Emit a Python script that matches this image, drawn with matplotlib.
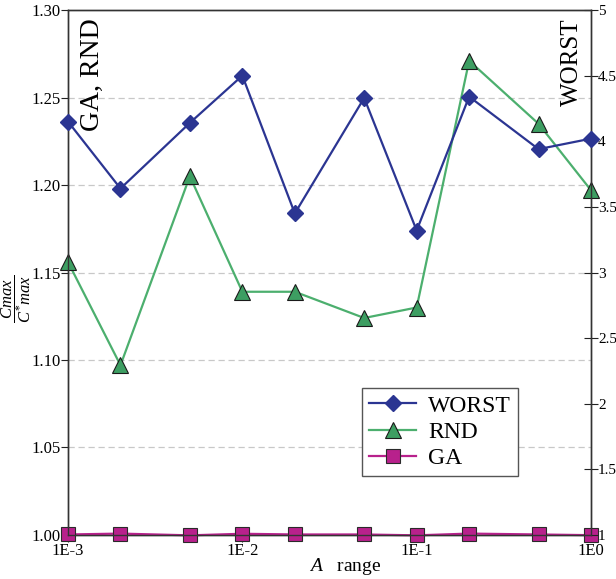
import numpy as np
import matplotlib.pyplot as plt

plt.rcParams['font.family'] = ['Liberation Serif', 'DejaVu Serif']
plt.rcParams['mathtext.fontset'] = 'custom'
plt.rcParams['mathtext.it'] = 'Liberation Serif:italic'
plt.rcParams['mathtext.rm'] = 'Liberation Serif'

# A range values
a_range = [1e-3, 2e-3, 5e-3, 1e-2, 2e-2, 5e-2, 1e-1, 2e-1, 5e-1, 1e0]
worst = [4.15, 3.64, 4.14, 4.50, 3.45, 4.33, 3.32, 4.34, 3.94, 4.02]
rnd = [1.156, 1.097, 1.205, 1.139, 1.139, 1.124, 1.130, 1.271, 1.235, 1.197]
ga = [1.0003, 1.0008, 0.9998, 1.0007, 1.0003, 1.0003, 0.9998, 1.0008, 1.0003, 0.9999]

x_ticks = [1e-3, 1e-2, 1e-1, 1e0]
x_ticklabels = ['1E-3', '1E-2', '1E-1', '1E0']
left_ticks = [1.00, 1.05, 1.10, 1.15, 1.20, 1.25, 1.30]
right_ticks = [1, 1.5, 2, 2.5, 3, 3.5, 4, 4.5, 5]

c_worst = '#2b3592'
c_rnd = '#4caf6e'
c_rnd_face = '#3d9e62'
c_ga = '#b8218c'

fig = plt.figure(figsize=(6.16, 5.79), dpi=100)
ax = fig.add_axes([0.1104, 0.076, 0.849, 0.9067])
ax2 = ax.twinx()

# grid from left axis
for t in left_ticks[1:-1]:
    ax.axhline(t, color='#c8c8c8', linestyle=(0, (5, 3)), linewidth=0.9, zorder=0)

l_rnd, = ax.plot(a_range, rnd, color=c_rnd, linewidth=1.6, marker='^', markersize=11,
                 markerfacecolor=c_rnd_face, markeredgecolor='#1a1a1a', markeredgewidth=0.8,
                 label='RND', clip_on=False, zorder=3)
l_ga, = ax.plot(a_range, ga, color=c_ga, linewidth=1.6, marker='s', markersize=10,
                markerfacecolor=c_ga, markeredgecolor='#2a2a2a', markeredgewidth=0.8,
                label='GA', clip_on=False, zorder=3)
l_worst, = ax2.plot(a_range, worst, color=c_worst, linewidth=1.6, marker='D', markersize=8,
                    markerfacecolor=c_worst, markeredgecolor=c_worst,
                    label='WORST', clip_on=False, zorder=3)

ax.set_xscale('log')
ax.set_xlim(1e-3, 1e0)
ax.set_ylim(1.0, 1.3)
ax2.set_ylim(1, 5)

ax.set_xticks(x_ticks)
ax.set_xticklabels(x_ticklabels)
ax.xaxis.set_minor_locator(plt.NullLocator())
ax.set_yticks(left_ticks)
ax.set_yticklabels(['%.2f' % t for t in left_ticks])
ax2.set_yticks(right_ticks)
ax2.set_yticklabels(['%g' % t for t in right_ticks])

ax.tick_params(axis='y', direction='out', length=5, labelsize=12, pad=0, color='#222222')
ax.tick_params(axis='x', direction='out', length=5, labelsize=12, pad=1, color='#222222')
ax2.tick_params(axis='y', direction='inout', length=10, labelsize=11, pad=0, color='#222222')
for a in (ax, ax2):
    for s in a.spines.values():
        s.set_color('#333333')
        s.set_linewidth(1.0)

ax.set_xlabel(r'$A$   range', fontsize=14, labelpad=0)
ax.xaxis.set_label_coords(0.53, -0.04)
ax.set_ylabel(r'$\dfrac{Cmax}{C^{*}max}$', fontsize=12)
ax.yaxis.set_label_coords(-0.066, 0.45)

ax.text(0.022, 0.985, 'GA, RND', transform=ax.transAxes, rotation=90, fontsize=20,
        ha='left', va='top')
ax2.text(0.985, 0.985, 'WORST', transform=ax.transAxes, rotation=90, fontsize=18,
         ha='right', va='top')

leg = ax2.legend(handles=[l_worst, l_rnd, l_ga], loc='upper left',
                 bbox_to_anchor=(0.562, 0.28), borderaxespad=0, fontsize=17, frameon=True,
                 fancybox=False, edgecolor='#555555', framealpha=1,
                 handlelength=2.0, borderpad=0.3, labelspacing=0.2, handletextpad=0.5)
leg.get_frame().set_linewidth(1.0)

fig.savefig('out.png', dpi=100)
